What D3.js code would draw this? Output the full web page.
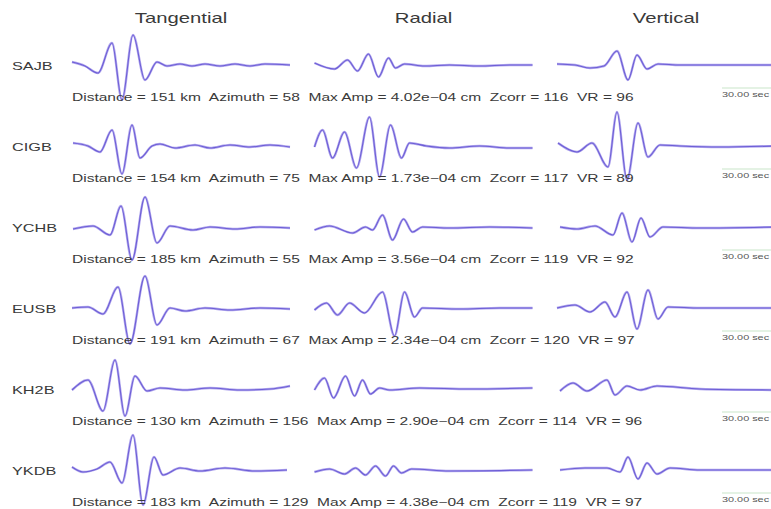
<!DOCTYPE html>
<html>
<head>
<meta charset="utf-8">
<script src="https://cdn.jsdelivr.net/npm/d3@7"></script>
<style>
  body { margin: 0; background: #fff; }
  text { font-family: "Liberation Sans", Arial, sans-serif; fill: #3a3a3a; white-space: pre; }
</style>
</head>
<body>
<script>
// waveform fits, 6 stations x 3 components
// each trace is a list of [time (s), amplitude] picked off the peaks/troughs

var stations = ["SAJB", "CIGB", "YCHB", "EUSB", "KH2B", "YKDB"];
var components = ["Tangential", "Radial", "Vertical"];

var distance = [151, 154, 185, 191, 130, 183];
var azimuth = [58, 75, 55, 67, 156, 129];
var maxAmp = ["4.02e\u221204", "1.73e\u221204", "3.56e\u221204",
              "2.34e\u221204", "2.90e\u221204", "4.38e\u221204"];
var zcorr = [116, 117, 119, 120, 114, 119];
var vr = [96, 89, 92, 97, 96, 97];
var scaleLabel = "30.00 sec";

var tangential = [
    [[0,0.3],[6.5,-0.1],[13,-0.8],[20,2.2],[25,-3.5],[30.5,3.0],[36.5,-1.5],
     [42.5,0.3],[47.5,-0.1],[54,0.1],[60,-0.1],[66.5,0.1],[74,-0.1],
     [81.5,0.1],[89,-0.1],[96.5,0.1],[109,0]],
    [[0.5,0.3],[8,0],[14,-0.6],[20,1.6],[25,-2.8],[30,2.1],[34,-1.2],
     [40,0],[44,0.2],[51.5,-0.2],[61.5,0.1],[69,-0.2],[79,0.1],[89,-0.1],
     [99,0.1],[109,-0.1]],
    [[0.5,-0.2],[10.5,0.1],[19,-0.8],[24.5,2.1],[30,-3.3],[36.5,3.0],
     [42.5,-1.6],[49,0.1],[60.5,-0.3],[69,0],[81.5,-0.2],[94,0],[109,-0.1]],
    [[0,0],[8,0.1],[15.5,-0.6],[23,2.1],[29,-3.6],[36.5,3.2],[42.5,-1.7],
     [49,0],[56.5,-0.3],[66.5,0],[79,-0.2],[94,0],[109,-0.1]],
    [[0,-0.1],[8,0.9],[15.5,-2.2],[21.5,2.9],[26.5,-2.7],[31.5,1.3],
     [37.5,-0.2],[44,0.1],[56.5,-0.1],[69,0.1],[84,-0.1],[99,0],[109,0.3]],
    [[0,0.3],[5.5,-0.2],[12.5,0.1],[19,0.8],[25,-1.3],[30.5,3.5],[35.5,-3.5],
     [41,1.3],[45.5,-0.5],[54,0.2],[64,-0.1],[76.5,0.2],[91.5,-0.1],
     [107.5,0]]
];

var radial = [
    [[0,0.2],[10,-0.4],[16.5,0.5],[21.5,-0.6],[27,1.1],[32,-1.2],[37,0.7],
     [40.5,-0.3],[45,0.1],[55,-0.1],[67.5,0],[82.5,-0.1],[97.5,0],[109,0]],
    [[0,-0.1],[4,1.6],[9,-1.2],[15,1.4],[21,-2.2],[27.5,2.9],[32.5,-3.1],
     [38,2.1],[43.5,-1.2],[47.5,0.3],[56,0],[67.5,-0.2],[82.5,0],
     [97.5,-0.2],[109,-0.2]],
    [[0,-0.3],[7.5,0.1],[19,-0.6],[25.5,0],[29,-0.3],[34,1.2],[39,-1.3],
     [44.5,0.8],[49,-0.5],[54,0],[67.5,-0.1],[87.5,0],[109,-0.1]],
    [[0,-0.2],[6,0.5],[11.5,-0.7],[17.5,0.5],[25,-0.5],[34,1.6],[40,-2.8],
     [45,1.6],[50,-0.9],[54,0],[72.5,-0.1],[92.5,0],[109,0]],
    [[0,-0.1],[5,1.1],[9.5,-0.9],[15.5,1.3],[20,-0.7],[24,0.9],[28,-0.5],
     [32.5,0.1],[37.5,-0.1],[52.5,0.1],[77.5,0],[109,0.1]],
    [[0,-0.2],[7.5,0.1],[15,-0.4],[20.5,0.2],[25.5,-0.5],[30.5,0.4],
     [35.5,-0.6],[39.5,0.4],[43.5,-0.3],[48.5,0.1],[67.5,-0.1],[109,0]]
];

var vertical = [
    [[0,0.1],[9,0],[16.5,-0.3],[23.5,-0.1],[30,1.4],[35.5,-1.5],[40,1.0],
     [45,-0.4],[50.5,0.1],[61.5,0],[81.5,0],[109,0]],
    [[0.5,0.3],[10,-0.6],[17.5,0.3],[25.5,-2.1],[30,3.4],[35,-3.4],
     [40.5,2.3],[45.5,-1.1],[51.5,0.1],[61.5,0],[81.5,-0.1],[109,0]],
    [[1.5,0],[10,-0.2],[19,0.1],[28,-0.8],[32.5,1.4],[37.5,-1.5],[42,0.9],
     [46.5,-1.0],[53,0],[71.5,-0.1],[109,0]],
    [[0,0],[9,0.3],[16.5,-0.4],[24,0.6],[29,-0.9],[35,1.6],[40,-2.1],
     [45.5,1.8],[50.5,-1.1],[55.5,0.1],[71.5,0],[109,0]],
    [[1.5,-0.2],[8,0.6],[15,-0.2],[25,0.9],[29,-0.6],[35,0.3],[41.5,-0.1],
     [50,0.3],[71.5,0],[109,-0.1]],
    [[1.5,0],[14,0.2],[25,0.2],[31.5,-0.2],[35.5,1.3],[40.5,-0.9],[45,0.7],
     [50,-0.4],[56.5,0.2],[71.5,0],[109,0]]
];

var traces = [tangential, radial, vertical];

var W = 771, H = 509;

var svg = d3.select("body").append("svg")
    .attr("width", W)
    .attr("height", H);

// columns and rows
var colX = d3.scalePoint().domain(components).range([72, 557]);
var colW = 218;
var rowY = d3.scalePoint().domain(stations).range([65, 470]);

var tScale = d3.scaleLinear().domain([0, 109]).range([0, colW]);
var aScale = d3.scaleLinear().domain([-4, 4]).range([40, -40]);

// the picture was squeezed tall, so all text comes out wide
function stretchedText(x, y, str, size, anchor, sx) {
    var t = svg.append("text")
        .attr("transform", "translate(" + x + "," + y + ") scale(" + sx + ",1)")
        .attr("font-size", size)
        .attr("text-anchor", anchor || "start")
        .text(str);
    return t;
}

// column titles
components.forEach(function(c) {
    stretchedText(colX(c) + colW / 2, 23, c, 14, "middle", 1.45);
});

var line = d3.line()
    .x(function(d) { return tScale(d[0]); })
    .y(function(d) { return aScale(d[1]); })
    .curve(d3.curveMonotoneX);

stations.forEach(function(s, i) {
    var y0 = rowY(s);

    stretchedText(12, y0 + 5, s, 10.5, "start", 1.55);

    components.forEach(function(c, j) {
        var g = svg.append("g")
            .attr("transform", "translate(" + colX(c) + "," + y0 + ")");
        // observed + synthetic overlap almost exactly, so one soft halo
        g.append("path")
            .datum(traces[j][i])
            .attr("d", line)
            .attr("fill", "none")
            .attr("stroke", "#b3a9ee")
            .attr("stroke-width", 2.4)
            .attr("stroke-linejoin", "round");
        g.append("path")
            .datum(traces[j][i])
            .attr("d", line)
            .attr("fill", "none")
            .attr("stroke", "#6d5ed6")
            .attr("stroke-width", 1.1)
            .attr("stroke-linejoin", "round");
    });

    var info = "Distance = " + distance[i] + " km  Azimuth = " + azimuth[i] +
        "  Max Amp = " + maxAmp[i] + " cm  Zcorr = " + zcorr[i] +
        "  VR = " + vr[i];
    stretchedText(72, y0 + 36, info, 10.5, "start", 1.48);

    // time scale bar (very faint) and its label
    svg.append("line")
        .attr("x1", 722).attr("x2", W)
        .attr("y1", y0 + 23).attr("y2", y0 + 23)
        .attr("stroke", "#e4f2e4")
        .attr("stroke-width", 2);
    stretchedText(722, y0 + 32, scaleLabel, 8, "start", 1.36)
        .style("fill", "#555");
});
</script>
</body>
</html>
